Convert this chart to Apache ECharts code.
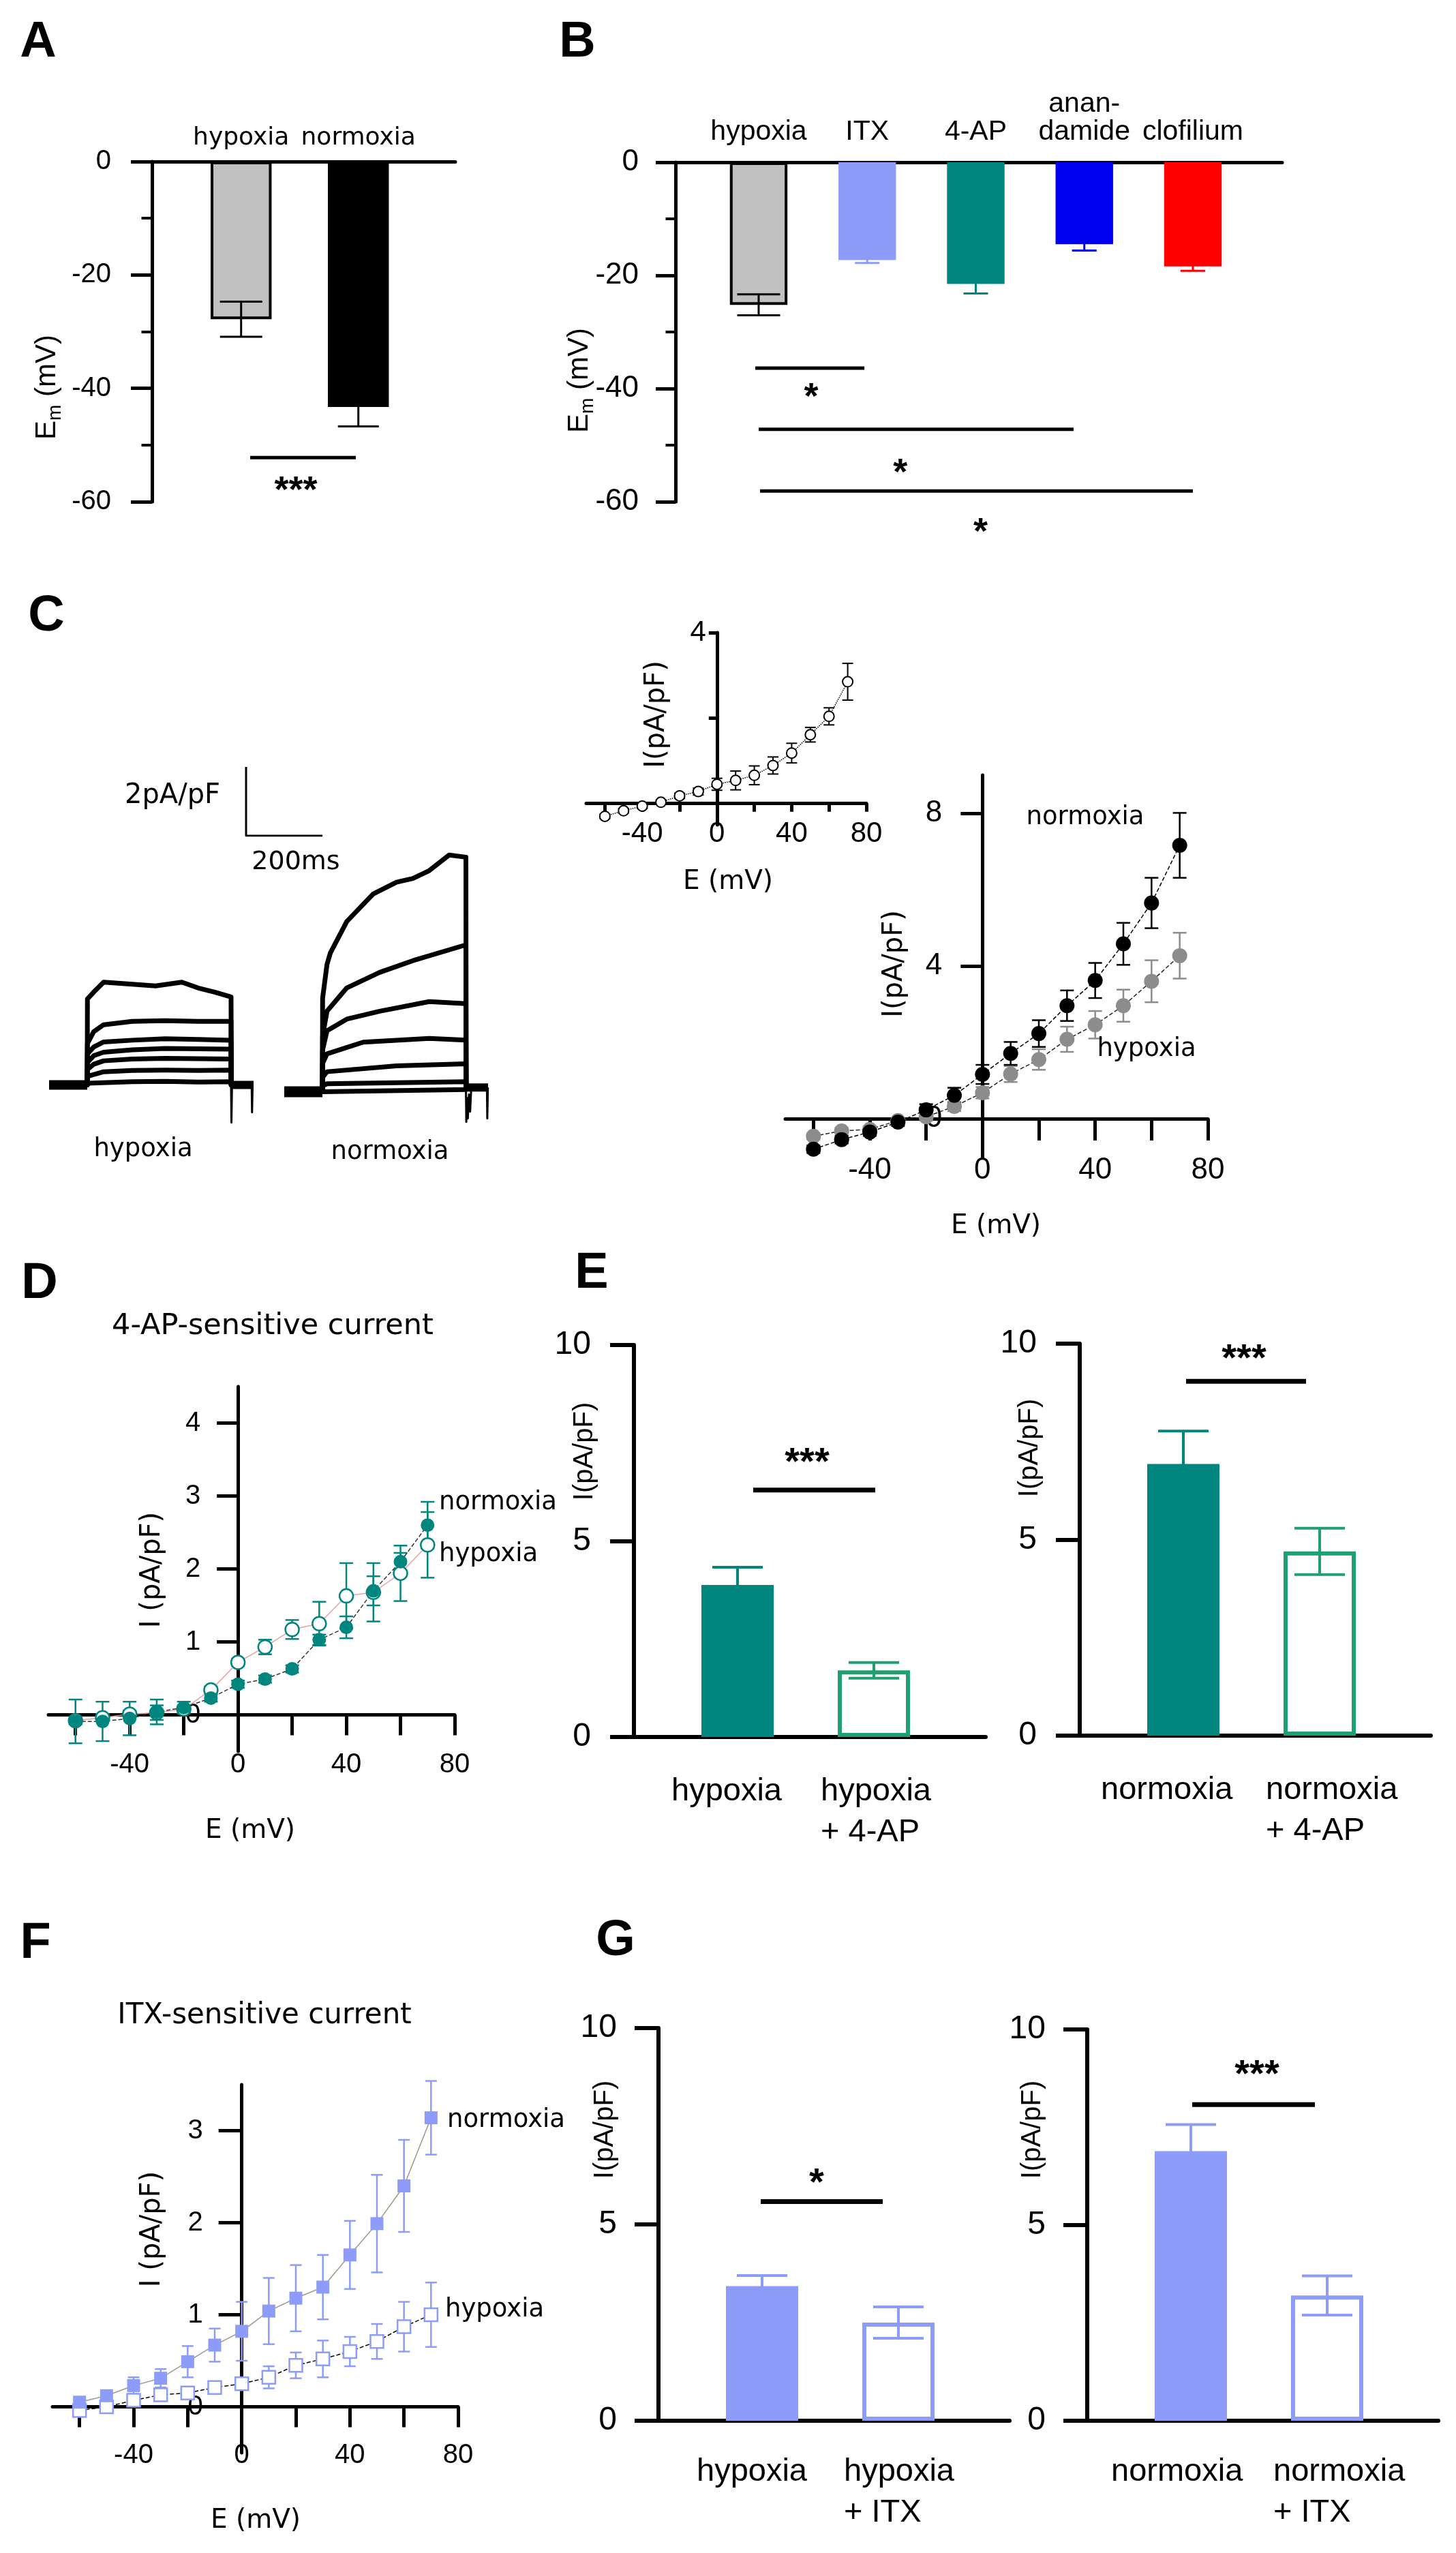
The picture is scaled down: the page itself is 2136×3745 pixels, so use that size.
<!DOCTYPE html>
<html><head><meta charset="utf-8">
<script src="https://cdn.jsdelivr.net/npm/echarts@6.0.0/dist/echarts.min.js"></script>
<style>html,body{margin:0;padding:0;background:#fff}#c{width:2136px;height:3745px}</style>
</head><body><div id="c"></div>
<script>
// ================= DATA =================
// Panel A
const catsA = ['hypoxia', 'normoxia'];
const emA = [-27.8, -43.3];
const semA = [3.1, 3.4];
const sigA = [[0.837, 1.738, -52.2, 1.227, -56.6]];
const sigAText = ['***'];
// Panel B
const catsB = ['hypoxia', 'ITX', '4-AP', 'anan-\ndamide', 'clofilium'];
const emB = [-25.2, -17.3, -21.5, -14.5, -18.4];
const semB = [1.85, 0.5, 1.7, 1.1, 0.8];
const sigB = [[0.735, 1.74, -36.4, 1.25, -40.1], [0.766, 3.667, -47.2, 2.07, -53.5], [0.779, 4.766, -58.1, 2.81, -63.9]];
const sigBText = ['*', '*', '*'];
// Panel C traces (time ms, current pA/pF)
const hypTraces = [
  [[0,0],[100,0],[100.5,2.5],[117,2.7],[143,2.99],[218,2.93],[279,2.88],[348,2.99],[391,2.82],[434,2.70],[477,2.56],[477.5,0],[536,0]],
  [[0,0],[100,0],[100.5,1.2],[117,1.55],[143,1.75],[218,1.85],[304,1.87],[391,1.85],[477,1.85],[477.5,0],[536,0]],
  [[0,0],[100,0],[100.5,0.9],[117,1.1],[143,1.25],[218,1.3],[304,1.34],[391,1.32],[477,1.3],[477.5,0],[536,0]],
  [[0,0],[100,0],[100.5,0.65],[117,0.85],[143,0.95],[218,1.02],[304,1.06],[391,1.05],[477,1.04],[477.5,0],[536,0]],
  [[0,0],[100,0],[100.5,0.45],[117,0.6],[143,0.7],[218,0.75],[304,0.77],[391,0.76],[477,0.75],[477.5,0],[536,0]],
  [[0,0],[100,0],[100.5,0.25],[143,0.38],[218,0.42],[304,0.43],[391,0.42],[477,0.43],[477.5,0],[536,0]],
  [[0,0],[100,0],[100.5,0.05],[218,0.09],[304,0.1],[391,0.08],[477,0.09],[477.5,0],[536,0]]
];
const hypArtifact = [[477,0],[478,-1.1],[479.5,0],[531,0],[532,-0.8],[533.5,0]];
const hypBaseline = [[0,0],[100,0]];
const hypTail = [[477,0],[536,0]];
const normTraces = [
  [[0,-0.12],[100,-0.12],[100.5,2.6],[112,3.58],[121,3.92],[164,4.83],[233,5.63],[294,5.97],[337,6.08],[380,6.31],[432,6.76],[476,6.70],[476.5,0],[534,0]],
  [[0,-0.12],[100,-0.12],[100.5,1.5],[112,2.22],[164,2.90],[250,3.35],[337,3.69],[476,4.15],[476.5,0],[534,0]],
  [[0,-0.12],[100,-0.12],[100.5,1.1],[112,1.65],[164,1.99],[250,2.22],[380,2.50],[476,2.44],[476.5,0],[534,0]],
  [[0,-0.12],[100,-0.12],[100.5,0.7],[112,0.98],[207,1.32],[380,1.43],[476,1.38],[476.5,0],[534,0]],
  [[0,-0.12],[100,-0.12],[100.5,0.3],[112,0.46],[294,0.63],[476,0.69],[476.5,0],[534,0]],
  [[0,-0.12],[100,-0.12],[100.5,0.05],[112,0.11],[476,0.17],[476.5,0],[534,0]],
  [[0,-0.12],[100,-0.12],[476,-0.06],[476.5,0],[534,0]]
];
const normArtifact = [[476,0],[477,-1.0],[479,-0.3],[481,-0.9],[484,-0.2],[487,-0.7],[490,0],[531,0],[532,-0.9],[533.5,0]];
const normBaseline = [[0,-0.12],[100,-0.12]];
const normTail = [[476,0],[534,0]];
const scaleBar = [[0,2],[0,0],[200,0]]; // 2 pA/pF, 200 ms
// I-V data
const voltages = [-60,-50,-40,-30,-20,-10,0,10,20,30,40,50,60,70];
const insetI = [-0.3,-0.17,-0.06,0.03,0.18,0.28,0.45,0.54,0.66,0.89,1.18,1.61,2.04,2.85];
const insetErr = [0.05,0.05,0.05,0.05,0.06,0.08,0.14,0.22,0.22,0.2,0.23,0.17,0.2,0.43];
const cNorm = [-0.80,-0.55,-0.35,-0.09,0.23,0.61,1.16,1.71,2.23,2.96,3.62,4.58,5.65,7.16];
const cNormErr = [0.1,0.1,0.1,0.1,0.15,0.2,0.25,0.3,0.35,0.4,0.46,0.55,0.66,0.85];
const cHyp = [-0.46,-0.32,-0.28,-0.05,0.05,0.32,0.68,1.17,1.55,2.08,2.46,2.96,3.60,4.27];
const cHypErr = [0.08,0.08,0.08,0.08,0.1,0.12,0.15,0.21,0.27,0.33,0.36,0.42,0.55,0.6];
const dNorm = [-0.09,-0.09,-0.05,0.04,0.1,0.23,0.42,0.49,0.63,1.03,1.2,1.7,2.1,2.6];
const dNormErr = [0.3,0.27,0.23,0.17,0.08,0.05,0.05,0.05,0.05,0.07,0.15,0.2,0.12,0.32];
const dHyp = [-0.08,-0.04,0.01,0.03,0.08,0.34,0.72,0.93,1.17,1.25,1.63,1.68,1.94,2.33];
const dHypErr = [0.05,0.05,0.05,0.1,0.05,0.05,0.05,0.1,0.13,0.3,0.45,0.4,0.38,0.45];
const fNorm = [0.05,0.12,0.23,0.31,0.49,0.67,0.82,1.04,1.18,1.30,1.65,1.99,2.40,3.14];
const fNormErr = [0.03,0.05,0.09,0.1,0.17,0.18,0.32,0.36,0.36,0.35,0.37,0.53,0.5,0.4];
const fHyp = [-0.04,0.0,0.07,0.13,0.15,0.21,0.25,0.32,0.45,0.52,0.60,0.71,0.87,1.00];
const fHypErr = [0.03,0.03,0.03,0.03,0.03,0.03,0.05,0.12,0.14,0.2,0.16,0.19,0.27,0.35];
// Panel E
const catsE1 = ['hypoxia', 'hypoxia\n+ 4-AP'];
const valE1 = [3.88, 1.70];
const semE1 = [0.45, 0.2];
const sigE1 = [[0.875, 1.77, 6.3, 1.27, 7.22]];
const catsE2 = ['normoxia', 'normoxia\n+ 4-AP'];
const valE2 = [6.93, 4.70];
const semE2 = [0.84, 0.59];
const sigE2 = [[0.78, 1.66, 9.04, 1.205, 9.84]];
// Panel G
const catsG1 = ['hypoxia', 'hypoxia\n+ ITX'];
const valG1 = [3.43, 2.50];
const semG1 = [0.27, 0.4];
const sigG1 = [[0.75, 1.645, 5.58, 1.16, 6.28]];
const catsG2 = ['normoxia', 'normoxia\n+ ITX'];
const valG2 = [6.89, 3.20];
const semG2 = [0.68, 0.5];
const sigG2 = [[0.77, 1.67, 8.08, 1.245, 9.07]];

// ================= STYLES / LAYOUT =================
const LS = '"Liberation Sans", Arial, sans-serif';
const DV = '"DejaVu Sans", sans-serif';
const GRAY = '#c0c0c0', PERI = '#8c9cf8', TEAL = '#00857f', GREEN = '#20a070', BLUE = '#0000f0', RED = '#ff0000';

const grids = [], xAxes = [], yAxes = [], series = [], graphics = [];
function addGrid(l, t, w, h) { grids.push({left: l, top: t, width: w, height: h}); return grids.length - 1; }

function sigSeries(xi, yi, rows, texts, lw, font) {
  series.push({
    type: 'custom', coordinateSystem: 'cartesian2d', xAxisIndex: xi, yAxisIndex: yi, z: 4, clip: false, silent: true,
    data: rows,
    renderItem: (params, api) => {
      const i = params.dataIndex;
      const p1 = api.coord([api.value(0), api.value(2)]);
      const p2 = api.coord([api.value(1), api.value(2)]);
      const ps = api.coord([api.value(3), api.value(4)]);
      return {type: 'group', children: [
        {type: 'line', shape: {x1: p1[0], y1: p1[1], x2: p2[0], y2: p2[1]}, style: {stroke: '#000', lineWidth: lw}},
        {type: 'text', style: {text: texts[i], x: ps[0], y: ps[1] + font * 0.25, align: 'center', verticalAlign: 'middle',
          fontSize: font, fontWeight: 'bold', fontFamily: LS, fill: '#000'}}
      ]};
    }
  });
}

function barPanel(o) {
  const g = addGrid(o.left, o.top, o.width, o.height);
  const pos = o.cats.map((c, i) => i + o.offset);
  const lpos = o.labelAt || pos;
  xAxes.push({gridIndex: g, type: 'value', min: 0, max: o.width / o.unit, position: o.labelPos,
    axisLine: {show: true, onZero: false, lineStyle: {color: '#000', width: o.axisW}},
    axisTick: {show: false}, splitLine: {show: false},
    axisLabel: {show: true, customValues: lpos,
      formatter: v => { let best = 0; lpos.forEach((p, k) => { if (Math.abs(p - v) < Math.abs(lpos[best] - v)) best = k; }); return o.cats[best]; },
      fontSize: o.catFont, fontFamily: o.catFamily, color: '#000', margin: o.catMargin, lineHeight: o.catLH,
      align: o.catAlign || 'center'}});
  const xi = xAxes.length - 1;
  yAxes.push({gridIndex: g, type: 'value', min: o.yMin, max: o.yMax, interval: o.yInt,
    axisLine: {show: true, onZero: false, lineStyle: {color: '#000', width: o.axisW}},
    axisTick: {show: true, length: o.tickLen, lineStyle: {color: '#000', width: o.axisW}},
    minorTick: {show: !!o.minor, splitNumber: 2, length: o.tickLen / 2, lineStyle: {color: '#000', width: o.axisW - 1}},
    splitLine: {show: false}, minorSplitLine: {show: false},
    axisLabel: {fontSize: o.tickFont, fontFamily: LS, color: '#000', margin: o.tickMargin}});
  const yi = yAxes.length - 1;
  series.push({
    type: 'custom', coordinateSystem: 'cartesian2d', xAxisIndex: xi, yAxisIndex: yi, z: 3, clip: false, silent: true,
    data: pos.map((p, i) => [p, o.values[i], o.sems[i]]),
    renderItem: (params, api) => {
      const i = params.dataIndex, x = api.value(0), v = api.value(1), e = api.value(2), st = o.styles[i];
      const a = api.coord([x - o.barW / 2, 0]), b = api.coord([x + o.barW / 2, v]);
      const lw = st.lw || 0;
      const x0 = Math.min(a[0], b[0]) + lw / 2, x1 = Math.max(a[0], b[0]) - lw / 2;
      const y0 = Math.min(a[1], b[1]) + lw / 2, y1 = Math.max(a[1], b[1]) - lw / 2;
      const cx = api.coord([x, v])[0];
      const up = api.coord([x, v + e])[1], dn = api.coord([x, v - e])[1];
      const cw = o.caps[i] / 2;
      const es = {stroke: st.err, lineWidth: o.errW};
      return {type: 'group', children: [
        {type: 'rect', shape: {x: x0, y: y0, width: x1 - x0, height: y1 - y0}, style: {fill: st.fill, stroke: st.stroke || null, lineWidth: lw}},
        {type: 'line', shape: {x1: cx, y1: up, x2: cx, y2: dn}, style: es},
        {type: 'line', shape: {x1: cx - cw, y1: up, x2: cx + cw, y2: up}, style: es},
        {type: 'line', shape: {x1: cx - cw, y1: dn, x2: cx + cw, y2: dn}, style: es}
      ]};
    }
  });
  sigSeries(xi, yi, o.sig, o.sigText, o.sigW, o.starFont);
}

function ivPanel(o) {
  const g = addGrid(o.left, o.top, o.width, o.height);
  const xMin = -70, xMax = 80;
  // place each axis through the other's zero, moving line, ticks and labels together
  const xOff = -(0 - o.yMin) / (o.yMax - o.yMin) * o.height;
  const yOff = -(0 - xMin) / (xMax - xMin) * o.width;
  xAxes.push({gridIndex: g, type: 'value', min: xMin, max: xMax, offset: xOff,
    axisLine: {show: true, onZero: false, lineStyle: {color: '#000', width: o.axisW}},
    axisTick: {show: true, customValues: o.xTicks, length: o.xTickLen, lineStyle: {color: '#000', width: o.axisW}},
    axisLabel: {show: true, customValues: o.xLabels, fontSize: o.font, fontFamily: LS, color: '#000', margin: o.xMargin},
    splitLine: {show: false}});
  const xi = xAxes.length - 1;
  yAxes.push({gridIndex: g, type: 'value', min: o.yMin, max: o.yMax, offset: yOff,
    axisLine: {show: true, onZero: false, lineStyle: {color: '#000', width: o.axisW}},
    axisTick: {show: true, customValues: o.yTicks, length: o.yTickLen, lineStyle: {color: '#000', width: o.axisW}},
    axisLabel: {show: true, customValues: o.yLabels, fontSize: o.font, fontFamily: LS, color: '#000', margin: o.yMargin},
    splitLine: {show: false}});
  const yi = yAxes.length - 1;
  o.series.forEach(s => {
    series.push({
      type: 'custom', coordinateSystem: 'cartesian2d', xAxisIndex: xi, yAxisIndex: yi, z: 2, clip: false, silent: true,
      data: voltages.map((v, i) => [v, s.vals[i], s.errs[i]]),
      renderItem: (params, api) => {
        const x = api.value(0), v = api.value(1), e = api.value(2);
        const up = api.coord([x, v + e]), dn = api.coord([x, v - e]);
        const cw = s.cap / 2, es = {stroke: s.errColor, lineWidth: s.errW};
        return {type: 'group', children: [
          {type: 'line', shape: {x1: up[0], y1: up[1], x2: dn[0], y2: dn[1]}, style: es},
          {type: 'line', shape: {x1: up[0] - cw, y1: up[1], x2: up[0] + cw, y2: up[1]}, style: es},
          {type: 'line', shape: {x1: dn[0] - cw, y1: dn[1], x2: dn[0] + cw, y2: dn[1]}, style: es}
        ]};
      }
    });
    series.push({
      type: 'line', xAxisIndex: xi, yAxisIndex: yi, z: 3, silent: true,
      data: voltages.map((v, i) => [v, s.vals[i]]),
      symbol: s.symbol, symbolSize: s.size, showSymbol: true,
      itemStyle: {color: s.fill, borderColor: s.stroke, borderWidth: s.bw, opacity: 1},
      lineStyle: {color: s.lineColor, width: s.lineW, type: s.lineType},
      emphasis: {disabled: true}
    });
  });
}

function traceGrid(l, t, w, h, xMax, yMin, yMax) {
  const g = addGrid(l, t, w, h);
  xAxes.push({gridIndex: g, type: 'value', min: 0, max: xMax, show: false});
  yAxes.push({gridIndex: g, type: 'value', min: yMin, max: yMax, show: false});
  return [xAxes.length - 1, yAxes.length - 1];
}
function traceLine(ax, data, w) {
  series.push({type: 'line', xAxisIndex: ax[0], yAxisIndex: ax[1], data: data, showSymbol: false, symbol: 'none',
    lineStyle: {color: '#000', width: w, join: 'round'}, z: 3, silent: true, emphasis: {disabled: true}});
}

// ---- Panel A ----
barPanel({left: 223, top: 237, width: 445, height: 499, unit: 172, offset: 0.76,
  yMin: -60, yMax: 0, yInt: 20, minor: true, tickLen: 31, axisW: 5, labelPos: 'top',
  cats: catsA, values: emA, sems: semA, catFont: 36, catFamily: DV, catMargin: 14, catLH: 40,
  tickFont: 40, tickMargin: 60, barW: 0.52, caps: [62, 60], errW: 3,
  styles: [{fill: GRAY, stroke: '#000', lw: 4, err: '#000'}, {fill: '#000', err: '#000'}],
  sig: sigA, sigText: sigAText, sigW: 5, starFont: 54});
// ---- Panel B ----
barPanel({left: 991, top: 238, width: 890, height: 498, unit: 159.25, offset: 0.766,
  yMin: -60, yMax: 0, yInt: 20, minor: true, tickLen: 29, axisW: 5, labelPos: 'top',
  cats: catsB, values: emB, sems: semB, catFont: 41, catFamily: LS, catMargin: 24, catLH: 41,
  tickFont: 44, tickMargin: 54, barW: 0.53, caps: [63, 36, 36, 36, 36], errW: 3,
  styles: [{fill: GRAY, stroke: '#000', lw: 4, err: '#000'}, {fill: PERI, err: PERI}, {fill: TEAL, err: TEAL},
           {fill: BLUE, err: BLUE}, {fill: RED, err: RED}],
  sig: sigB, sigText: sigBText, sigW: 5, starFont: 54});

// ---- Panel C traces ----
const hypAx = traceGrid(72, 1415, 300, 252, 536, -1.5, 3.5);
hypTraces.forEach(t => traceLine(hypAx, t, 7));
traceLine(hypAx, hypArtifact, 3);
traceLine(hypAx, hypBaseline, 14);
traceLine(hypAx, hypTail, 12);
const normAx = traceGrid(417, 1217, 299, 454, 534, -1.5, 7.5);
normTraces.forEach(t => traceLine(normAx, t, 7));
traceLine(normAx, normArtifact, 3);
traceLine(normAx, normBaseline, 16);
traceLine(normAx, normTail, 12);
const sbAx = traceGrid(361, 1125, 112, 101, 200, 0, 2);
traceLine(sbAx, scaleBar, 3);

// ---- Panel C inset I-V ----
const ivTicksX = [-60, -40, -20, 20, 40, 60, 80], ivLabelsX = [-40, 0, 40, 80];
ivPanel({left: 860, top: 928, width: 411, height: 282, yMin: -0.5, yMax: 4, axisW: 5,
  xTicks: ivTicksX, xLabels: ivLabelsX, yTicks: [2, 4], yLabels: [4], xTickLen: 12, yTickLen: 12,
  font: 42, xMargin: 24, yMargin: 16,
  series: [{vals: insetI, errs: insetErr, symbol: 'circle', size: 15, fill: '#fff', stroke: '#000', bw: 2,
    lineColor: '#000', lineW: 1.5, lineType: 'dotted', errColor: '#000', errW: 2, cap: 16}]});
// ---- Panel C main I-V ----
ivPanel({left: 1152, top: 1137, width: 620, height: 560, yMin: -1, yMax: 9, axisW: 5,
  xTicks: ivTicksX, xLabels: ivLabelsX, yTicks: [0, 4, 8], yLabels: [0, 4, 8], xTickLen: 32, yTickLen: 32,
  font: 44, xMargin: 54, yMargin: 59,
  series: [
    {vals: cHyp, errs: cHypErr, symbol: 'circle', size: 22, fill: '#8c8c8c', stroke: '#8c8c8c', bw: 0,
      lineColor: '#222', lineW: 1.5, lineType: 'dashed', errColor: '#8c8c8c', errW: 2.5, cap: 20},
    {vals: cNorm, errs: cNormErr, symbol: 'circle', size: 22, fill: '#000', stroke: '#000', bw: 0,
      lineColor: '#000', lineW: 1.5, lineType: 'dashed', errColor: '#000', errW: 2.5, cap: 20}]});
// ---- Panel D ----
ivPanel({left: 71, top: 2034, width: 596, height: 535, yMin: -0.5, yMax: 4.5, axisW: 5,
  xTicks: ivTicksX, xLabels: ivLabelsX, yTicks: [0, 1, 2, 3, 4], yLabels: [0, 1, 2, 3, 4], xTickLen: 30, yTickLen: 31,
  font: 40, xMargin: 53, yMargin: 55,
  series: [
    {vals: dHyp, errs: dHypErr, symbol: 'circle', size: 20, fill: '#fff', stroke: TEAL, bw: 2.5,
      lineColor: '#e8a0a0', lineW: 1.5, lineType: 'solid', errColor: TEAL, errW: 2.5, cap: 20},
    {vals: dNorm, errs: dNormErr, symbol: 'circle', size: 20, fill: TEAL, stroke: TEAL, bw: 0,
      lineColor: '#333', lineW: 1.5, lineType: 'dashed', errColor: TEAL, errW: 2.5, cap: 20}]});
// ---- Panel E ----
const eStyles = [{fill: TEAL, err: TEAL}, {fill: '#fff', stroke: GREEN, lw: 6, err: GREEN}];
const gStyles = [{fill: PERI, err: PERI}, {fill: '#fff', stroke: PERI, lw: 6, err: PERI}];
const rightBase = {unit: 200, offset: 0.76, yMin: 0, yMax: 10, yInt: 5, minor: false, tickLen: 35, axisW: 6,
  labelPos: 'bottom', catFont: 47, catFamily: LS, catLH: 60, catAlign: 'left', tickFont: 48, tickMargin: 63, barW: 0.53,
  caps: [74, 74], errW: 4, sigW: 7, starFont: 56};
barPanel(Object.assign({}, rightBase, {left: 930, top: 1973, width: 516, height: 575, catMargin: 50, labelAt: [0.275, 1.37],
  cats: catsE1, values: valE1, sems: semE1, styles: eStyles, sig: sigE1, sigText: ['***']}));
barPanel(Object.assign({}, rightBase, {left: 1584, top: 1971, width: 515, height: 575, catMargin: 50, labelAt: [0.155, 1.365],
  cats: catsE2, values: valE2, sems: semE2, styles: eStyles, sig: sigE2, sigText: ['***']}));
// ---- Panel F ----
ivPanel({left: 77, top: 3058, width: 595, height: 540, yMin: -0.5, yMax: 3.5, axisW: 5,
  xTicks: ivTicksX, xLabels: ivLabelsX, yTicks: [0, 1, 2, 3], yLabels: [0, 1, 2, 3], xTickLen: 30, yTickLen: 34,
  font: 40, xMargin: 51, yMargin: 57,
  series: [
    {vals: fHyp, errs: fHypErr, symbol: 'rect', size: 19, fill: '#fff', stroke: PERI, bw: 2.5,
      lineColor: '#000', lineW: 1.5, lineType: 'dashed', errColor: PERI, errW: 2.5, cap: 17},
    {vals: fNorm, errs: fNormErr, symbol: 'rect', size: 19, fill: PERI, stroke: PERI, bw: 0,
      lineColor: '#a09888', lineW: 1.5, lineType: 'solid', errColor: PERI, errW: 2.5, cap: 17}]});
// ---- Panel G ----
barPanel(Object.assign({}, rightBase, {left: 966, top: 2975, width: 515, height: 576, catMargin: 45, labelAt: [0.28, 1.36],
  tickMargin: 61, cats: catsG1, values: valG1, sems: semG1, styles: gStyles, sig: sigG1, sigText: ['*']}));
barPanel(Object.assign({}, rightBase, {left: 1595, top: 2977, width: 515, height: 574, catMargin: 45, labelAt: [0.175, 1.365],
  tickMargin: 61, cats: catsG2, values: valG2, sems: semG2, styles: gStyles, sig: sigG2, sigText: ['***']}));

// ================= TEXT =================
function txt(text, x, y, fam, size, opt) {
  opt = opt || {};
  graphics.push({type: 'text', x: x, y: y, rotation: opt.rot ? Math.PI / 2 : 0, z: 100, silent: true,
    style: {text: text, fontSize: size, fontFamily: fam, fontWeight: opt.bold ? 'bold' : 'normal', fill: '#000',
      align: opt.align || 'center', verticalAlign: 'middle', rich: opt.rich}});
}
const letterFont = 74;
[['A', 56, 63], ['B', 847, 63], ['C', 68, 905], ['D', 58, 1884], ['E', 868, 1869], ['F', 52, 2852], ['G', 903, 2848]]
  .forEach(l => txt(l[0], l[1], l[2], LS, letterFont, {bold: true}));
const emRich = {a: {fontSize: 42, fontFamily: LS, fill: '#000'}, b: {fontSize: 28, fontFamily: LS, fill: '#000', padding: [24, 0, 0, 0]}};
txt('{a|E}{b|m}{a| (mV)}', 69, 568, LS, 42, {rot: true, rich: emRich});
txt('{a|E}{b|m}{a| (mV)}', 850, 558, LS, 42, {rot: true, rich: emRich});
txt('2pA/pF', 253, 1168, DV, 40);
txt('200ms', 434, 1265, DV, 38);
txt('hypoxia', 210, 1686, DV, 37);
txt('normoxia', 572, 1690, DV, 37);
txt('I(pA/pF)', 964, 1048, DV, 40, {rot: true});
txt('E (mV)', 1068, 1294, DV, 39);
txt('normoxia', 1592, 1199, DV, 37);
txt('hypoxia', 1682, 1539, DV, 37);
txt('I(pA/pF)', 1313, 1414, DV, 40, {rot: true});
txt('E (mV)', 1461, 1799, DV, 39);
txt('4-AP-sensitive current', 400, 1946, DV, 43);
txt('normoxia', 644, 2204, DV, 37, {align: 'left'});
txt('hypoxia', 644, 2280, DV, 37, {align: 'left'});
txt('I (pA/pF)', 224, 2303, DV, 40, {rot: true});
txt('E (mV)', 367, 2686, DV, 39);
txt('I(pA/pF)', 858, 2129, LS, 40, {rot: true});
txt('I(pA/pF)', 1511, 2124, LS, 40, {rot: true});
txt('ITX-sensitive current', 388, 2957, DV, 42);
txt('normoxia', 656, 3110, DV, 37, {align: 'left'});
txt('hypoxia', 653, 3388, DV, 37, {align: 'left'});
txt('I (pA/pF)', 224, 3270, DV, 40, {rot: true});
txt('E (mV)', 375, 3698, DV, 39);
txt('I(pA/pF)', 888, 3124, LS, 40, {rot: true});
txt('I(pA/pF)', 1515, 3124, LS, 40, {rot: true});

const chart = echarts.init(document.getElementById('c'), null, {renderer: 'canvas', width: 2136, height: 3745});
chart.setOption({
  animation: false,
  backgroundColor: '#fff',
  grid: grids, xAxis: xAxes, yAxis: yAxes, series: series, graphic: graphics
});
</script>
</body></html>
